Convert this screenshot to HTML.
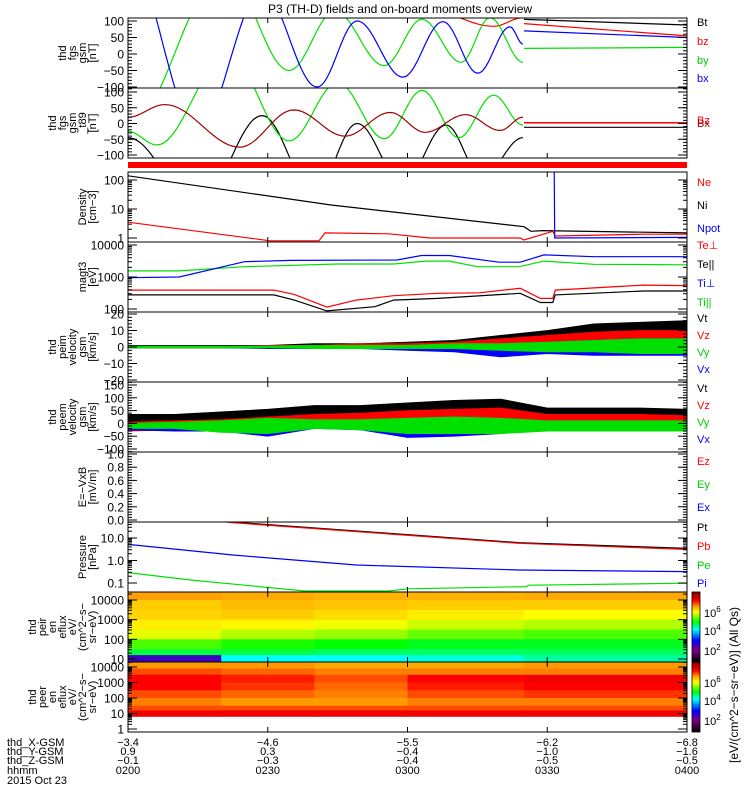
<!DOCTYPE html>
<html><head><meta charset="utf-8"><style>
body{margin:0;background:#fff}
svg{display:block;font-family:"Liberation Sans",sans-serif}
</style></head><body>
<svg id="c" width="750" height="800" viewBox="0 0 750 800" xmlns="http://www.w3.org/2000/svg">
<rect x="0" y="0" width="750" height="800" fill="#fff"/>
<text x="400" y="13" font-size="12" text-anchor="middle">P3 (TH-D) fields and on-board moments overview</text>
<g id="layer"></g>
</svg>
<script>
// ---- data ----
const timeTicks=[0,30,60,90,120];
const xGsm=["-3.4","-4.6","-5.5","-6.2","-6.8"];
const yGsm=["0.9","0.3","-0.4","-1.0","-1.6"];
const zGsm=["-0.1","-0.3","-0.4","-0.5","-0.5"];
const hhmm=["0200","0230","0300","0330","0400"];
const p1BxPre=[[0,290],[15,-230],[28.8,190],[40.6,-100],[49.2,100],[59,-70],[67.6,98],[75.1,-58],[82,82],[84.8,30]];
const p1ByPre=[[0,-220],[20.8,250],[34.6,-50],[44.4,130],[55,-35],[63.1,105],[71.5,-25],[77.7,110],[84.8,-25]];
const p1BzPre=[[0,250],[40,150],[65,130],[78.5,84],[84.8,110]];
const p1BtPost=[[85,105],[120,88]];
const p1BzPost=[[85,92],[120,55]];
const p1BxPost=[[85,70],[120,50]];
const p1ByPost=[[85,17],[120,20]];
const p2DarkRed=[[0,20],[7.9,60],[24,-75],[35.6,43],[46.6,-40],[56.3,35],[63.8,-28],[72.4,28],[79.9,-22],[84.8,20]];
const p2Green=[[0,-25],[6.2,-68],[21.5,220],[34.6,-55],[45,130],[55,-48],[63.1,105],[71,-45],[78.5,90],[84.8,-5]];
const p2Black=[[0,-45],[15,-260],[28.8,25],[40,-220],[49.2,0],[59,-190],[68.3,-5],[76,-170],[84.8,-45]];
const p2PostRed=[[85,3],[120,3]];
const p2PostDark=[[85,2],[120,2]];
const p2PostBlack=[[85,-12],[120,-12]];
const denNi=[[0,140],[43.6,13.7],[85,2.45],[86.5,1.7],[89,1.8],[120,1.5]];
const denNe=[[0,3.5],[30.5,0.8],[41,0.8],[42.3,1.5],[56,1.4],[64.8,1.0],[84.2,1.0],[85,0.85],[91.2,1.7],[91.7,1.17],[110.6,1.35],[120,1.35]];
const denNpot=[[91.5,300],[91.6,1.0],[120,1.05]];
const tiPerp=[[0,950],[11,1000],[25,3000],[35,3300],[57.7,3400],[63,4700],[69,4700],[79.6,2900],[84.2,2900],[89.3,4900],[100,4300],[120,4300]];
const tiPar=[[0,1550],[11,1550],[25,2100],[45,2550],[57,2550],[64,3150],[69,3150],[75,2100],[84,2100],[89.3,3150],[100,2500],[120,2400]];
const tePerp=[[0,390],[31.3,390],[35.7,285],[42.7,115],[49,190],[57,260],[66.5,310],[75.4,320],[84.2,445],[88.5,215],[91.2,215],[91.7,390],[110.6,560],[120,540]];
const tePar=[[0,275],[31.3,275],[35.7,190],[42.7,87],[53,118],[57,190],[66.5,215],[84.2,310],[88.5,160],[91.2,160],[91.7,275],[110.6,365],[120,365]];
const bandTimes=[0,10,20,30,40,50,60,70,80,90,100,110,120];
const viBlackLo=[0,0,0,0,0.5,1,1,2,3,4,5,6,6];
const viBlackHi=[1,1,1,1,2,2,3,4,7,10,14,15,16];
const viRedLo=[-0.5,-0.5,-0.5,-0.5,0,0,0,1,1,2,2,3,3];
const viRedHi=[0.5,0.5,0.5,1,1,2,2,3,5,7,9,10,10];
const viGreenLo=[-0.5,-0.5,-0.5,-0.5,-1,-1,-1,-1,-2,-3,-3,-4,-4];
const viGreenHi=[0.5,0.5,0.5,0.5,1,1,1,2,2,3,4,5,5];
const viBlueLo=[-0.5,-0.5,-0.5,-1,-1,-1,-2,-3,-6,-4,-5,-5,-5];
const viBlueHi=[0.5,0.5,0.5,0.5,0.5,1,1,1,1,3,4,5,5];
const veBlackLo=[5,5,10,10,15,20,20,20,20,10,10,10,10];
const veBlackHi=[35,35,45,55,70,70,80,90,95,60,60,60,55];
const veRedLo=[-30,-25,-15,-10,-5,0,0,0,5,-5,-5,-5,-5];
const veRedHi=[5,10,15,25,35,40,50,55,60,35,35,35,30];
const veGreenLo=[-20,-20,-35,-40,-20,-25,-40,-40,-40,-30,-30,-30,-30];
const veGreenHi=[0,5,10,20,15,15,20,25,20,10,10,10,10];
const veBlueLo=[-25,-30,-30,-50,-20,-25,-55,-50,-40,-25,-30,-30,-30];
const veBlueHi=[0,0,0,5,5,5,5,5,5,0,0,0,0];
const presPt=[[0,150],[22.5,51],[84,6.2],[120,3.5]];
const presPb=[[0,140],[22.5,48],[84,5.8],[120,3.1]];
const presPe=[[0,5.2],[22.5,1.75],[49,0.63],[84,0.38],[120,0.32]];
const presPi=[[0,0.29],[13.7,0.135],[38,0.044],[56,0.044],[60,0.055],[85.5,0.069],[86,0.08],[120,0.098]];
const specTimes=[0,20,40,60,85,120];
const irEnergyEdges=[4.4,4.0,3.5,3.0,2.5,2.0,1.5,1.2,0.85];
const irFlux=[[6.55,6.5,6.45,6.45,6.5],[6.3,6.4,6.35,6.3,6.3],[6.25,6.3,6.2,6.1,6.0],[6.1,6.05,5.95,5.8,5.7],[5.9,5.7,5.6,5.4,5.3],[5.3,5.1,5.0,4.9,4.9],[4.8,4.8,4.7,4.7,4.7],[2.5,4.2,4.2,4.3,4.5]];
const erEnergyEdges=[4.3,3.9,3.5,3.0,2.5,2.0,1.5,1.2,0.82];
const erFlux=[[6.6,6.6,6.5,6.5,6.6],[6.9,6.8,6.7,6.7,6.7],[7.2,7.1,6.9,7.2,7.3],[7.2,7.0,6.8,7.1,7.2],[6.9,6.8,6.7,6.9,7.0],[6.7,6.6,6.6,6.7,6.7],[6.9,6.9,6.9,6.9,6.9],[7.3,7.3,7.3,7.3,7.3]];
const p1Ticks=[100,50,0,-50,-100];
const p2Ticks=[100,50,0,-50,-100];
const denTicks=[[100,"100"],[10,"10"],[1,"1"]];
const magTicks=[[10000,"10000"],[1000,"1000"],[100,"100"]];
const viTicks=[20,10,0,-10,-20];
const veTicks=[150,100,50,0,-50,-100];
const eTicks=[[1,"1.0"],[0.8,"0.8"],[0.6,"0.6"],[0.4,"0.4"],[0.2,"0.2"],[0,"0.0"]];
const pTicks=[[10,"10.0"],[1,"1.0"],[0.1,"0.1"]];
const irTicks=[[10000,"10000"],[1000,"1000"],[100,"100"],[10,"10"]];
const erTicks=[[10000,"10000"],[1000,"1000"],[100,"100"],[10,"10"],[1,"1"]];

const NS="http://www.w3.org/2000/svg";
const L=document.getElementById('layer');
const X0=128,X1=687;
function xs(t){return X0+t/120*(X1-X0);}
function mk(tag,attrs,parent){const e=document.createElementNS(NS,tag);for(const k in attrs)e.setAttribute(k,attrs[k]);(parent||L).appendChild(e);return e;}
function panel(top,bot,v1,y1,v2,y2,log){
  const f=log?(v=>y1+(Math.log10(v)-Math.log10(v1))/(Math.log10(v2)-Math.log10(v1))*(y2-y1)):(v=>y1+(v-v1)/(v2-v1)*(y2-y1));
  return {top,bot,y:f,log};
}
const P={
 p1:panel(18,88,100,21,-100,87),
 p2:panel(88,158,100,92,-100,155),
 den:panel(172,242,100,180,1,238,true),
 mag:panel(242,312,10000,245,100,309,true),
 vi:panel(312,382,20,314,-20,380),
 ve:panel(382,452,150,385,-100,449),
 e:panel(452,522,1,454,0,520),
 pr:panel(522,592,10,538,0.1,583,true),
 ir:panel(592,662,10000,600,10,659,true),
 er:panel(662,732,10000,667,1,729,true)
};
let clipN=0;
function clip(p){const id='cl'+(clipN++);const cp=mk('clipPath',{id});mk('rect',{x:X0,y:p.top,width:X1-X0,height:p.bot-p.top},cp);return 'url(#'+id+')';}
function smoothLine(p,pts,color,name){
  let d='';
  for(let i=0;i<pts.length-1;i++){
    const [t0,v0]=pts[i],[t1,v1]=pts[i+1];
    for(let k=0;k<=24;k++){const s=k/24;const e=(1-Math.cos(Math.PI*s))/2;
      const x=xs(t0+(t1-t0)*s),y=p.y(v0+(v1-v0)*e);
      d+=(d?'L':'M')+x.toFixed(1)+','+y.toFixed(1);}
  }
  const el=mk('path',{d,fill:'none',stroke:color,'stroke-width':1.2,'clip-path':clip(p)});
  
  
}
function polyLine(p,pts,color,name){
  let d='';
  pts.forEach(([t,v],i)=>{const x=xs(t),y=p.y(v);d+=(i?'L':'M')+x.toFixed(1)+','+y.toFixed(1);});
  const el=mk('path',{d,fill:'none',stroke:color,'stroke-width':1.2,'clip-path':clip(p)});
  
  
}
function band(p,lo,hi,color,name){
  let d='';
  bandTimes.forEach((t,i)=>{d+=(i?'L':'M')+xs(t).toFixed(1)+','+p.y(hi[i]).toFixed(1);});
  for(let i=bandTimes.length-1;i>=0;i--)d+='L'+xs(bandTimes[i]).toFixed(1)+','+p.y(lo[i]).toFixed(1);
  const el=mk('path',{d:d+'Z',fill:color,stroke:color,'stroke-width':0.8,'clip-path':clip(p)});
  
  
}
const cmStops=[[0.8,[0,0,0]],[2,[128,0,128]],[3,[0,0,255]],[4.2,[0,255,255]],[5,[0,255,0]],[6,[255,255,0]],[6.6,[255,153,0]],[7.2,[255,0,0]],[8.1,[128,0,0]]];
function cmap(v){
  if(v<=cmStops[0][0])return 'rgb(0,0,0)';
  for(let i=0;i<cmStops.length-1;i++){const [a,ca]=cmStops[i],[b,cb]=cmStops[i+1];
    if(v<=b){const s=(v-a)/(b-a);return 'rgb('+ca.map((c,j)=>Math.round(c+(cb[j]-c)*s)).join(',')+')';}}
  return 'rgb(128,0,0)';
}
function spectro(p,edges,flux,name){
  flux.forEach((row,r)=>row.forEach((v,c)=>{
    const y0=p.y(Math.pow(10,edges[r])),y1=p.y(Math.pow(10,edges[r+1]));
    const el=mk('rect',{x:xs(specTimes[c]).toFixed(1),y:Math.max(p.top,y0).toFixed(1),width:(xs(specTimes[c+1])-xs(specTimes[c])+0.5).toFixed(1),height:(Math.min(p.bot,y1)-Math.max(p.top,y0)+0.5).toFixed(1),fill:cmap(v)});
    
    
  }));
}
function frame(p,name){
  const el=mk('rect',{x:X0,y:p.top,width:X1-X0,height:p.bot-p.top,fill:'none',stroke:'#000','stroke-width':1});
  
  
  timeTicks.forEach(t=>{mk('line',{x1:xs(t),x2:xs(t),y1:p.bot,y2:p.bot-5,stroke:'#000'});mk('line',{x1:xs(t),x2:xs(t),y1:p.top,y2:p.top+5,stroke:'#000'});});
}
function yTicks(p,ticks,name){
  ticks.forEach(tk=>{
    const v=Array.isArray(tk)?tk[0]:tk,lab=Array.isArray(tk)?tk[1]:String(tk).replace('-','\u2212');
    const y=p.y(v);
    mk('line',{x1:X0,x2:X0+9,y1:y,y2:y,stroke:'#000'});
    mk('line',{x1:X1,x2:X1-9,y1:y,y2:y,stroke:'#000'});
    const t=mk('text',{x:124,y:y+4.5,'font-size':12,'text-anchor':'end'});t.textContent=lab;
    
    
  });
  if(p.log){
    ticks.forEach(tk=>{const v=tk[0];for(let m=2;m<10;m++){const y=p.y(v*m);if(y>p.top&&y<p.bot){mk('line',{x1:X0,x2:X0+4,y1:y,y2:y,stroke:'#000'});mk('line',{x1:X1,x2:X1-4,y1:y,y2:y,stroke:'#000'});}}});
  }else{
    const vs=ticks.map(tk=>Array.isArray(tk)?tk[0]:tk);const st=(vs[0]-vs[1])/5;
    for(let v=vs[vs.length-1]-st*5;v<=vs[0]+st*5;v+=st){const y=p.y(v);if(y>p.top&&y<p.bot){mk('line',{x1:X0,x2:X0+4,y1:y,y2:y,stroke:'#000'});mk('line',{x1:X1,x2:X1-4,y1:y,y2:y,stroke:'#000'});}}
  }
}
function ylabel(p,lines,name){
  const cy=(p.top+p.bot)/2,n=lines.length,x0=96-(n-1)*10;
  lines.forEach((s,i)=>{const x=x0+i*10;const t=mk('text',{x,y:cy,'font-size':11,'text-anchor':'middle',transform:'rotate(-90 '+x+' '+cy+')'});t.textContent=s;
    
    });
}
function rlabels(items,name){
  items.forEach(([s,y,c])=>{const t=mk('text',{x:697,y,'font-size':11,fill:c});t.textContent=s;
    
    });
}

smoothLine(P.p1,p1BzPre,'#ff0000','bz-line-pre');
smoothLine(P.p1,p1ByPre,'#00e000','by-line-pre');
smoothLine(P.p1,p1BxPre,'#0000ff','bx-line-pre');
polyLine(P.p1,p1BtPost,'#000','bt-line-post');
polyLine(P.p1,p1BzPost,'#ff0000','bz-line-post');
polyLine(P.p1,p1BxPost,'#0000ff','bx-line-post');
polyLine(P.p1,p1ByPost,'#00e000','by-line-post');
frame(P.p1,'fgs-panel');yTicks(P.p1,p1Ticks,'fgs');ylabel(P.p1,['thd','fgs','gsm','[nT]'],'fgs');
rlabels([['Bt',26,'#000'],['bz',45,'#f00'],['by',64,'#0c0'],['bx',82,'#00f']],'fgs');
smoothLine(P.p2,p2Black,'#000','t89-black-line');
smoothLine(P.p2,p2Green,'#00e000','t89-green-line');
smoothLine(P.p2,p2DarkRed,'#a00000','t89-darkred-line');
polyLine(P.p2,p2PostBlack,'#000','t89-black-post');
polyLine(P.p2,p2PostDark,'#a00000','t89-darkred-post');
polyLine(P.p2,p2PostRed,'#ff0000','t89-red-post');
frame(P.p2,'t89-panel');yTicks(P.p2,p2Ticks,'t89');ylabel(P.p2,['thd','fgs','gsm','_t89','[nT]'],'t89');
rlabels([['Bz',124,'#f00'],['Bx',127,'#a00']],'t89');
mk('rect',{x:X0,y:162,width:X1-X0,height:6,fill:'#ff0000',});
polyLine(P.den,denNi,'#000','ni-line');
polyLine(P.den,denNe,'#ff0000','ne-line');
polyLine(P.den,denNpot,'#0000ff','npot-line');
frame(P.den,'density-panel');yTicks(P.den,denTicks,'density');ylabel(P.den,['Density','[cm\u22123]'],'density');
rlabels([['Ne',186,'#f00'],['Ni',209,'#000'],['Npot',232,'#00f']],'density');
polyLine(P.mag,tiPar,'#00e000','ti-par-line');
polyLine(P.mag,tiPerp,'#0000ff','ti-perp-line');
polyLine(P.mag,tePerp,'#ff0000','te-perp-line');
polyLine(P.mag,tePar,'#000','te-par-line');
frame(P.mag,'magt3-panel');yTicks(P.mag,magTicks,'magt3');ylabel(P.mag,['magt3','[eV]'],'magt3');
rlabels([['Te\u22a5',249,'#f00'],['Te||',268,'#000'],['Ti\u22a5',287,'#00f'],['Ti||',306,'#0c0']],'magt3');
band(P.vi,viBlackLo,viBlackHi,'#000','peim-vt-band');
band(P.vi,viRedLo,viRedHi,'#ff0000','peim-vz-band');
band(P.vi,viBlueLo,viBlueHi,'#0000ff','peim-vx-band');
band(P.vi,viGreenLo,viGreenHi,'#00e000','peim-vy-band');
frame(P.vi,'peim-panel');yTicks(P.vi,viTicks,'peim');ylabel(P.vi,['thd','peim','velocity','gsm','[km/s]'],'peim');
rlabels([['Vt',322,'#000'],['Vz',339,'#f00'],['Vy',356,'#0c0'],['Vx',373,'#00f']],'peim');
band(P.ve,veBlackLo,veBlackHi,'#000','peem-vt-band');
band(P.ve,veRedLo,veRedHi,'#ff0000','peem-vz-band');
band(P.ve,veBlueLo,veBlueHi,'#0000ff','peem-vx-band');
band(P.ve,veGreenLo,veGreenHi,'#00e000','peem-vy-band');
frame(P.ve,'peem-panel');yTicks(P.ve,veTicks,'peem');ylabel(P.ve,['thd','peem','velocity','gsm','[km/s]'],'peem');
rlabels([['Vt',392,'#000'],['Vz',409,'#f00'],['Vy',426,'#0c0'],['Vx',443,'#00f']],'peem');
frame(P.e,'efield-panel');yTicks(P.e,eTicks,'efield');ylabel(P.e,['E=\u2212VxB','[mV/m]'],'efield');
rlabels([['Ez',465,'#f00'],['Ey',488,'#0c0'],['Ex',511,'#00f']],'efield');
polyLine(P.pr,presPe,'#0000ff','pe-line');
polyLine(P.pr,presPi,'#00e000','pi-line');
polyLine(P.pr,presPt,'#000','pt-line');
polyLine(P.pr,presPb,'#ff0000','pb-line');
frame(P.pr,'pressure-panel');yTicks(P.pr,pTicks,'pressure');ylabel(P.pr,['Pressure','[nPa]'],'pressure');
rlabels([['Pt',531,'#000'],['Pb',550,'#f00'],['Pe',569,'#0c0'],['Pi',587,'#00f']],'pressure');
spectro(P.ir,irEnergyEdges,irFlux,'peir');
frame(P.ir,'peir-panel');yTicks(P.ir,irTicks,'peir');ylabel(P.ir,['thd','peir','en','eflux','eV/','(cm^2\u2212s\u2212','sr\u2212eV)'],'peir-en');
spectro(P.er,erEnergyEdges,erFlux,'peer');
frame(P.er,'peer-panel');yTicks(P.er,erTicks,'peer');ylabel(P.er,['thd','peer','en','eflux','eV/','(cm^2\u2212s\u2212','sr\u2212eV)'],'peer-en');
const defs=mk('defs',{});
const g=mk('linearGradient',{id:'cbg',x1:0,y1:1,x2:0,y2:0},defs);
cmStops.forEach(([v,c])=>mk('stop',{offset:((v-0.8)/7.3).toFixed(3),'stop-color':'rgb('+c.join(',')+')'},g));
[592,662].forEach((top,i)=>{
  mk('rect',{x:692,y:top,width:8,height:70,fill:'url(#cbg)',stroke:'#000','stroke-width':0.8,});
  [[6,21],[4,39],[2,59]].forEach(([p,dy])=>{const t=mk('text',{x:704,y:top+dy+4,'font-size':11});t.textContent='10';
    const s=mk('tspan',{dy:-5,'font-size':8},t);s.textContent=p;
    
    });
});
const cbt=mk('text',{x:738,y:685,'font-size':12,'text-anchor':'middle',transform:'rotate(-90 738 685)'});
cbt.textContent='[eV/(cm^2\u2212s\u2212sr\u2212eV)] (All Qs)';


const rows=[['thd_X-GSM',xGsm,746],['thd_Y-GSM',yGsm,755],['thd_Z-GSM',zGsm,764],['hhmm',hhmm,774]];
rows.forEach(([lab,vals,y])=>{
  const t=mk('text',{x:7,y,'font-size':11});t.textContent=lab;
  
  
  vals.forEach((v,i)=>{const tt=mk('text',{x:xs(timeTicks[i]),y,'font-size':11,'text-anchor':'middle'});tt.textContent=v.replace('-','\u2212');
    
    });
});
const dt=mk('text',{x:7,y:784,'font-size':11});dt.textContent='2015 Oct 23';


</script>
</body></html>
